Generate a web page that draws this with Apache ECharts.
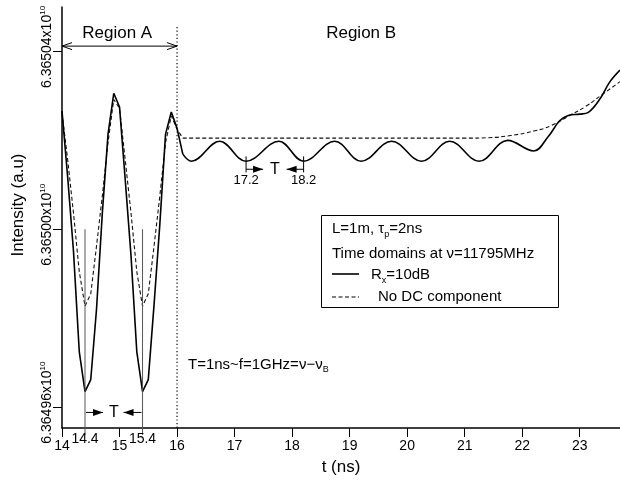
<!DOCTYPE html>
<html>
<head>
<meta charset="utf-8">
<script src="https://cdn.jsdelivr.net/npm/echarts@6/dist/echarts.min.js"></script>
<style>
  html, body { margin: 0; padding: 0; background: #fff; }
  #chart { width: 620px; height: 484px; }
</style>
</head>
<body>
<div id="chart"></div>
<script>
const FONT = '"Liberation Sans", Arial, Helvetica, sans-serif';

// Region A: sampled every 0.1 ns (intensity in units of 10^10)
const timeRegionA = [14.0, 14.1, 14.2, 14.3, 14.4, 14.5, 14.6, 14.7, 14.8, 14.9, 15.0,
                     15.1, 15.2, 15.3, 15.4, 15.5, 15.6, 15.7, 15.8, 15.9, 16.0, 16.1];
const rxRegionA = [6.3650266, 6.3650115, 6.3649950, 6.3649725, 6.3649635, 6.3649662,
                   6.3649820, 6.3650034, 6.3650214, 6.3650306, 6.3650275, 6.3650110,
                   6.3649940, 6.3649725, 6.3649635, 6.3649662, 6.3649830, 6.3650010,
                   6.3650214, 6.3650264, 6.3650227, 6.3650169];
const noDcRegionA = [6.3650262, 6.3650155, 6.3650036, 6.3649905, 6.3649827, 6.3649855,
                     6.3649962, 6.3650074, 6.3650195, 6.3650292, 6.3650272, 6.3650155,
                     6.3650036, 6.3649905, 6.3649827, 6.3649855, 6.3649962, 6.3650074,
                     6.3650195, 6.3650255, 6.3650225, 6.3650205];

// Region B: ripple of the R_x = 10 dB trace (troughs and crests, then the final rise)
const timeRxRegionB = [16.1, 16.25, 16.74, 17.2, 17.77, 18.2, 18.74, 19.2, 19.73, 20.25,
                       20.74, 21.25, 21.75, 22.2, 22.45, 22.65, 22.8, 23.0, 23.15, 23.35,
                       23.52, 23.7];
const rxRegionB = [6.3650169, 6.3650153, 6.3650198, 6.3650153, 6.3650198, 6.3650153,
                   6.3650198, 6.3650153, 6.3650198, 6.3650153, 6.3650198, 6.3650153,
                   6.3650200, 6.3650176, 6.3650208, 6.3650244, 6.3650256, 6.3650259,
                   6.3650263, 6.3650293, 6.3650331, 6.3650358];

// Region B: trace without the DC component
const timeNoDcRegionB = [16.1, 17, 18, 19, 20, 21, 21.4, 21.8, 22.2, 22.5, 22.85, 23.1, 23.4, 23.7];
const noDcRegionB = [6.3650205, 6.3650205, 6.3650205, 6.3650205, 6.3650205, 6.3650205,
                     6.3650206, 6.3650211, 6.3650221, 6.3650233, 6.3650258, 6.3650276,
                     6.3650304, 6.3650332];

const xTickValues = [14, 15, 16, 17, 18, 19, 20, 21, 22, 23];
const yTickValues = [6.36496, 6.36500, 6.36504];
const periodMarksA = [14.4, 15.4];
const periodMarksB = [17.2, 18.2];
const regionBoundary = 16;

const X_MIN = 14, X_MAX = 23.7;
const Y_MIN = 6.3649553, Y_MAX = 6.3650500;

const zip = (xs, ys) => xs.map((x, i) => [x, ys[i]]);

const chart = echarts.init(document.getElementById('chart'), null, { renderer: 'canvas' });

const solidStyle = { color: '#000', width: 1.6 };
const dashedStyle = { color: '#111', width: 1.1, type: [4, 2.5] };

chart.setOption({
  animation: false,
  backgroundColor: '#fff',
  textStyle: { fontFamily: FONT, color: '#000' },
  grid: { left: 62, right: 0, top: 7, bottom: 56, containLabel: false },
  xAxis: {
    type: 'value',
    min: X_MIN,
    max: X_MAX,
    name: 't (ns)',
    nameLocation: 'middle',
    nameGap: 31,
    nameTextStyle: { fontSize: 17, color: '#000', fontFamily: FONT },
    axisLine: { show: true, onZero: false, lineStyle: { color: '#000', width: 1.5 } },
    axisTick: { show: true, customValues: xTickValues, length: 9, inside: false,
                lineStyle: { color: '#000', width: 1 } },
    axisLabel: { customValues: xTickValues, fontSize: 14, color: '#000', margin: 11, fontFamily: FONT },
    splitLine: { show: false }
  },
  yAxis: {
    type: 'value',
    min: Y_MIN,
    max: Y_MAX,
    axisLine: { show: true, onZero: false, lineStyle: { color: '#000', width: 1.5 } },
    axisTick: { show: true, customValues: yTickValues, length: 9, inside: false,
                lineStyle: { color: '#000', width: 1 } },
    axisLabel: {
      customValues: yTickValues,
      rotate: 90,
      margin: 7,
      padding: [0, 0, 0, 9],
      formatter: v => '{b|' + v.toFixed(5) + 'x10}{s|10}',
      rich: {
        b: { fontSize: 14, lineHeight: 16, color: '#000', fontFamily: FONT },
        s: { fontSize: 8, lineHeight: 8, verticalAlign: 'top', color: '#000', fontFamily: FONT }
      }
    },
    splitLine: { show: false }
  },
  series: [
    { name: 'No DC component', type: 'line', data: zip(timeRegionA, noDcRegionA),
      showSymbol: false, smooth: false, lineStyle: dashedStyle, z: 2 },
    { name: 'No DC component', type: 'line', data: zip(timeNoDcRegionB, noDcRegionB),
      showSymbol: false, smooth: 0.5, lineStyle: dashedStyle, z: 2 },
    { name: 'Rx=10dB', type: 'line', data: zip(timeRegionA, rxRegionA),
      showSymbol: false, smooth: false, lineStyle: solidStyle, z: 3 },
    { name: 'Rx=10dB', type: 'line', data: zip(timeRxRegionB, rxRegionB),
      showSymbol: false, smooth: 0.38, lineStyle: solidStyle, z: 3 }
  ]
});

// ---- annotations, anchored to data coordinates ----
const px = (t, v) => chart.convertToPixel({ gridIndex: 0 }, [t, v]);
const ink = { stroke: '#000', lineWidth: 1 };
const g = [];

function text(x, y, str, size, extra) {
  g.push(Object.assign({
    type: 'text', x: x, y: y, z: 10,
    style: { text: str, fill: '#000', fontSize: size, fontFamily: FONT,
             align: 'center', verticalAlign: 'middle' }
  }, extra || {}));
}
function line(x1, y1, x2, y2, style) {
  g.push({ type: 'line', z: 10, shape: { x1, y1, x2, y2 }, style: Object.assign({}, ink, style || {}) });
}
function filledHead(x, y, dir) {
  // dir = +1 points right, -1 points left
  g.push({ type: 'polygon', z: 10,
    shape: { points: [[x, y], [x - dir * 10, y - 3.5], [x - dir * 10, y + 3.5]] },
    style: { fill: '#000' } });
}
function openHead(x, y, dir) {
  g.push({ type: 'polyline', z: 10,
    shape: { points: [[x - dir * 10, y - 3.5], [x, y], [x - dir * 10, y + 3.5]] },
    style: { stroke: '#000', lineWidth: 1, fill: null } });
}

const yBottom = px(X_MIN, Y_MIN)[1];

// Region A span arrow and region titles
const regionTop = 6.3650440;
const arrowLevel = 6.3650412;
const [ax1, ay] = px(X_MIN, arrowLevel);
const ax2 = px(regionBoundary, arrowLevel)[0];
line(ax1, ay, ax2, ay);
openHead(ax1, ay, -1);
openHead(ax2, ay, 1);
const rA = px(14.96, regionTop);
text(rA[0], rA[1], 'Region A', 17);
const rB = px(19.2, regionTop);
text(rB[0], rB[1], 'Region B', 17);

// Boundary between the regions
const bTop = px(regionBoundary, 6.3650455);
line(bTop[0], bTop[1], bTop[0], yBottom, { lineDash: [1.2, 2.4], lineWidth: 1.2 });

// Period markers in region A
const markTopA = 6.36500;
periodMarksA.forEach(t => {
  const p = px(t, markTopA);
  line(p[0], p[1], p[0], yBottom + 7, { stroke: '#555' });
  text(p[0], yBottom + 11, String(t), 14);
});
const tLevelA = px(X_MIN, 6.3649588)[1];
const mA1 = px(periodMarksA[0], 0)[0], mA2 = px(periodMarksA[1], 0)[0];
line(mA1 + 1, tLevelA, mA1 + 18, tLevelA);
filledHead(mA1 + 18, tLevelA, 1);
line(mA2 - 1, tLevelA, mA2 - 19, tLevelA);
filledHead(mA2 - 19, tLevelA, -1);
text((mA1 + mA2) / 2, tLevelA, 'T', 16);

// Period markers in region B
const tLevelB = px(X_MIN, 6.3650135)[1];
const tickTopB = px(X_MIN, 6.3650164)[1];
const tickBotB = px(X_MIN, 6.3650128)[1];
const mB1 = px(periodMarksB[0], 0)[0], mB2 = px(periodMarksB[1], 0)[0];
[mB1, mB2].forEach((x, i) => {
  line(x, tickTopB, x, tickBotB);
  text(x, tickBotB + 8, periodMarksB[i].toFixed(1), 13);
});
line(mB1, tLevelB, mB1 + 17, tLevelB);
filledHead(mB1 + 17, tLevelB, 1);
line(mB2, tLevelB, mB2 - 17, tLevelB);
filledHead(mB2 - 17, tLevelB, -1);
text((mB1 + mB2) / 2, tLevelB, 'T', 16);

// Beat-frequency note
const note = px(16.19, 6.3649696);
g.push({ type: 'text', x: note[0], y: note[1], z: 10,
  style: {
    text: '{n|T=1ns~f=1GHz=ν−ν}{sub|B}',
    align: 'left', verticalAlign: 'middle',
    rich: {
      n: { fontSize: 15, lineHeight: 20, fontFamily: FONT, fill: '#000' },
      sub: { fontSize: 9, lineHeight: 3, verticalAlign: 'bottom', fontFamily: FONT, fill: '#000' }
    }
  } });

// Y axis title
text(18, 205, 'Intensity (a.u)', 17, { rotation: Math.PI / 2 });

// Legend box
const richN = { fontSize: 15, lineHeight: 20, fontFamily: FONT, fill: '#000' };
const richSub = { fontSize: 9, lineHeight: 3, verticalAlign: 'bottom', fontFamily: FONT, fill: '#000' };
g.push({ type: 'rect', z: 9, shape: { x: 321.5, y: 215.5, width: 237, height: 92 },
         style: { fill: '#fff', stroke: '#000', lineWidth: 1 } });
g.push({ type: 'text', x: 332, y: 229, z: 10,
  style: { text: '{n|L=1m, τ}{sub|p}{n|=2ns}', align: 'left', verticalAlign: 'middle',
           rich: { n: richN, sub: richSub } } });
g.push({ type: 'text', x: 332, y: 254, z: 10,
  style: { text: 'Time domains at ν=11795MHz', align: 'left', verticalAlign: 'middle',
           fontSize: 15, fontFamily: FONT, fill: '#000' } });
line(332, 274, 359, 274, { lineWidth: 1.6 });
g.push({ type: 'text', x: 371, y: 275, z: 10,
  style: { text: '{n|R}{sub|x}{n|=10dB}', align: 'left', verticalAlign: 'middle',
           rich: { n: richN, sub: richSub } } });
line(332, 297, 359, 297, { lineWidth: 1.1, lineDash: [4, 2.5] });
g.push({ type: 'text', x: 378, y: 297, z: 10,
  style: { text: 'No DC component', align: 'left', verticalAlign: 'middle',
           fontSize: 15, fontFamily: FONT, fill: '#000' } });

chart.setOption({ graphic: { elements: g } });
</script>
</body>
</html>
